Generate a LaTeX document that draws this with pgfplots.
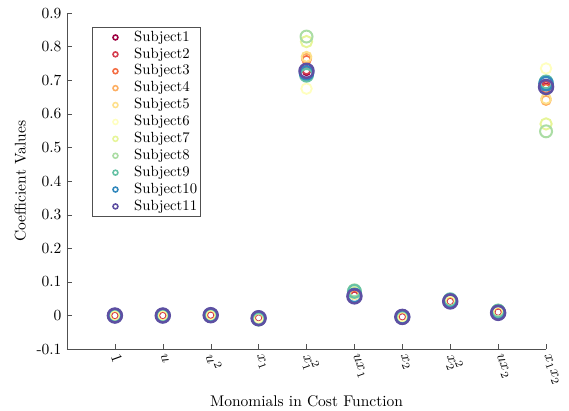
\documentclass[border=0pt]{standalone}
\usepackage{pgfplots}
\usepackage{pgfplotstable}
\pgfplotsset{compat=1.18}

% Spectral colormap, 11 classes
\definecolor{c1}{HTML}{9E0142}
\definecolor{c2}{HTML}{D53E4F}
\definecolor{c3}{HTML}{F46D43}
\definecolor{c4}{HTML}{FDAE61}
\definecolor{c5}{HTML}{FEE08B}
\definecolor{c6}{HTML}{FFFFBF}
\definecolor{c7}{HTML}{E6F598}
\definecolor{c8}{HTML}{ABDDA4}
\definecolor{c9}{HTML}{66C2A5}
\definecolor{c10}{HTML}{3288BD}
\definecolor{c11}{HTML}{5E4FA2}
\definecolor{axcol}{RGB}{80,80,80}

% coefficient of each monomial (x = 1..10), one column per subject
\pgfplotstableread{
x  s1     s2     s3     s4     s5     s6     s7     s8     s9     s10    s11
1  0.000  0.000  0.000  0.000  0.000  0.000  0.000  0.000  0.000  0.000  0.000
2  0.000  0.000  0.000  0.000  0.000  0.000  0.000  0.000  0.000  0.000  0.000
3  0.001  0.001  0.001  0.001  0.001  0.001  0.001  0.001  0.001  0.001  0.001
4  -0.007 -0.007 -0.008 -0.008 -0.006 -0.005 -0.010 -0.012 -0.010 -0.008 -0.008
5  0.725  0.730  0.760  0.765  0.770  0.675  0.815  0.830  0.715  0.722  0.728
6  0.060  0.060  0.062  0.063  0.063  0.065  0.068  0.075  0.072  0.060  0.057
7  -0.004 -0.004 -0.004 -0.004 -0.004 -0.003 -0.005 -0.006 -0.005 -0.004 -0.004
8  0.042  0.042  0.042  0.042  0.043  0.043  0.044  0.046  0.047  0.043  0.042
9  0.010  0.010  0.010  0.010  0.011  0.011  0.013  0.015  0.013  0.009  0.008
10 0.680  0.685  0.675  0.640  0.645  0.735  0.570  0.548  0.695  0.690  0.680
}\coef

\begin{document}
\begin{tikzpicture}
\begin{axis}[
  scale only axis,
  width=309pt,
  height=216.8pt,
  xmin=0, xmax=10,
  ymin=-0.1, ymax=0.9,
  axis x line*=bottom,
  axis y line*=left,
  axis line style={-,axcol},
  tick align=inside,
  major tick length=3.2pt,
  tick style={axcol},
  xtick={1,...,10},
  xticklabels={$1$,$u$,$u^2$,$x_1$,$x_1^2$,$ux_1$,$x_2$,$x_2^2$,$ux_2$,$x_1x_2$},
  xticklabel style={rotate=-70,anchor=west,yshift=-1pt},
  ytick={-0.1,0,0.1,0.2,0.3,0.4,0.5,0.6,0.7,0.8,0.9},
  yticklabels={-0.1,0,0.1,0.2,0.3,0.4,0.5,0.6,0.7,0.8,0.9},
  xlabel={Monomials in Cost Function},
  xlabel style={yshift=2pt},
  ylabel={Coefficient Values},
  clip=false,
  legend cell align=left,
  legend style={
    at={(0.052,0.958)}, anchor=north west,
    draw=axcol, fill=white, inner sep=1pt,
    font=\fontsize{9.5}{11.4}\selectfont,
    nodes={inner sep=1.05pt, text height=6.8pt, text depth=2pt},
  },
  legend image code/.code={%
    \path (-13.5pt,0pt) (10.5pt,0pt);
    \draw[#1] plot coordinates {(0pt,0pt)};},
]
\addlegendimage{only marks,mark=o,mark size=1.6pt,line width=1pt,c1}
\addlegendimage{only marks,mark=o,mark size=1.6pt,line width=1pt,c2}
\addlegendimage{only marks,mark=o,mark size=1.6pt,line width=1pt,c3}
\addlegendimage{only marks,mark=o,mark size=1.6pt,line width=1pt,c4}
\addlegendimage{only marks,mark=o,mark size=1.6pt,line width=1pt,c5}
\addlegendimage{only marks,mark=o,mark size=1.6pt,line width=1pt,c6}
\addlegendimage{only marks,mark=o,mark size=1.6pt,line width=1pt,c7}
\addlegendimage{only marks,mark=o,mark size=1.6pt,line width=1pt,c8}
\addlegendimage{only marks,mark=o,mark size=1.6pt,line width=1pt,c9}
\addlegendimage{only marks,mark=o,mark size=1.6pt,line width=1pt,c10}
\addlegendimage{only marks,mark=o,mark size=1.6pt,line width=1pt,c11}
\legend{Subject1,Subject2,Subject3,Subject4,Subject5,Subject6,Subject7,Subject8,Subject9,Subject10,Subject11}

\addplot[forget plot,only marks,mark=o,c1,mark size=2.3pt,line width=0.95pt] table[x=x,y=s1]{\coef};
\addplot[forget plot,only marks,mark=o,c2,mark size=2.5pt,line width=1.0pt] table[x=x,y=s2]{\coef};
\addplot[forget plot,only marks,mark=o,c3,mark size=2.75pt,line width=1.05pt] table[x=x,y=s3]{\coef};
\addplot[forget plot,only marks,mark=o,c4,mark size=3.0pt,line width=1.1pt] table[x=x,y=s4]{\coef};
\addplot[forget plot,only marks,mark=o,c5,mark size=3.2pt,line width=1.15pt] table[x=x,y=s5]{\coef};
\addplot[forget plot,only marks,mark=o,c6,mark size=3.4pt,line width=1.2pt] table[x=x,y=s6]{\coef};
\addplot[forget plot,only marks,mark=o,c7,mark size=3.65pt,line width=1.25pt] table[x=x,y=s7]{\coef};
\addplot[forget plot,only marks,mark=o,c8,mark size=3.85pt,line width=1.3pt] table[x=x,y=s8]{\coef};
\addplot[forget plot,only marks,mark=o,c9,mark size=4.1pt,line width=1.4pt] table[x=x,y=s9]{\coef};
\addplot[forget plot,only marks,mark=o,c10,mark size=4.3pt,line width=1.5pt] table[x=x,y=s10]{\coef};
\addplot[forget plot,only marks,mark=o,c11,mark size=4.5pt,line width=1.6pt] table[x=x,y=s11]{\coef};

\coordinate (sw) at (rel axis cs:0,0);
\end{axis}
\pgfresetboundingbox
\path[use as bounding box] ([shift={(-43.2pt,-39.35pt)}]sw) rectangle ([shift={(323.8pt,225.2pt)}]sw);
\end{tikzpicture}
\end{document}
